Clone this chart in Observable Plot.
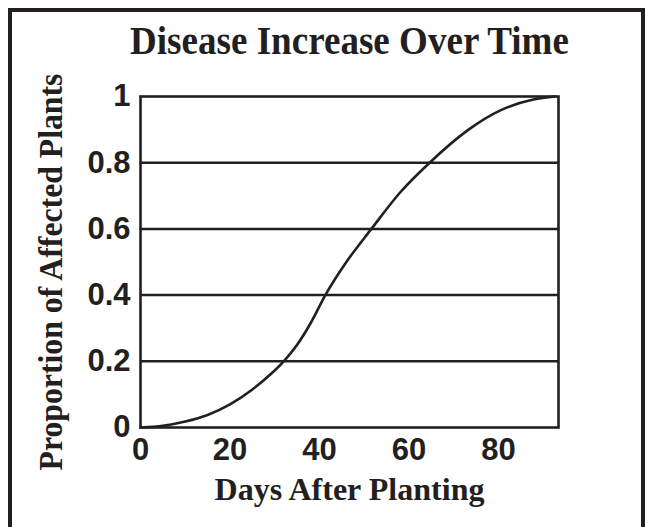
<!DOCTYPE html>
<html>
<head>
<meta charset="utf-8">
<script src="https://cdn.jsdelivr.net/npm/d3@7"></script>
<script src="https://cdn.jsdelivr.net/npm/@observablehq/plot@0.6"></script>
<style>
  html, body { margin: 0; padding: 0; background: #fff; overflow: hidden; }
  #wrap { position: relative; width: 650px; height: 527px; }
  #border { position: absolute; left: 8px; top: 8px; width: 637px; height: 560px;
            box-sizing: border-box; border: 4px solid #231f20; pointer-events: none; }
</style>
</head>
<body>
<div id="wrap"><div id="border"></div></div>
<script>
const title = "Disease Increase Over Time";
const xLabel = "Days After Planting";
const yLabel = "Proportion of Affected Plants";
const xTicks = [0, 20, 40, 60, 80];
const yTicks = [0, 0.2, 0.4, 0.6, 0.8, 1];
const gridLines = [0.2, 0.4, 0.6, 0.8];
const days = [0, 5, 10, 15, 20, 25, 29, 32, 35, 38, 41.3, 46, 51.6, 58, 64.6, 73, 80.4, 87.8, 92.7];
const proportion = [0, 0.005, 0.018, 0.038, 0.07, 0.115, 0.16, 0.2, 0.25, 0.315, 0.4, 0.5, 0.6, 0.71, 0.8, 0.897, 0.958, 0.991, 1];

const data = days.map((d, i) => ({day: d, p: proportion[i]}));
const ink = "#231f20";
const serif = "'Liberation Serif', 'Times New Roman', serif";

const chart = Plot.plot({
  width: 650,
  height: 527,
  marginTop: 96,
  marginLeft: 140,
  marginRight: 92,
  marginBottom: 100,
  style: {fontFamily: "'Liberation Sans', Arial, sans-serif", fontSize: "31px", fontWeight: "bold", color: ink, background: "transparent"},
  x: {domain: [0, 93.4], ticks: xTicks, tickSize: 0, tickPadding: 10, label: null, tickFormat: d => String(d)},
  y: {domain: [0, 1], ticks: yTicks, tickSize: 0, tickPadding: 10, label: null, tickFormat: d => String(d)},
  marks: [
    Plot.ruleY(gridLines, {stroke: ink, strokeWidth: 2.5}),
    Plot.line(data, {x: "day", y: "p", stroke: ink, strokeWidth: 2.6, curve: "monotone-x"}),
    Plot.frame({stroke: ink, strokeWidth: 2.6}),
    Plot.text([title], {frameAnchor: "top", textAnchor: "middle", lineAnchor: "middle", dy: -56, fontFamily: serif, fontSize: 41, fontWeight: "bold", fill: ink}),
    Plot.text([xLabel], {frameAnchor: "bottom", textAnchor: "middle", lineAnchor: "middle", dy: 63, fontFamily: serif, fontSize: 31, fontWeight: "bold", fill: ink}),
    Plot.text([yLabel], {frameAnchor: "left", textAnchor: "middle", lineAnchor: "middle", rotate: -90, dx: -89, dy: 10, fontFamily: serif, fontSize: 33, fontWeight: "bold", fill: ink})
  ]
});

document.getElementById("wrap").appendChild(chart);
const svg = d3.select(chart);
const textGroups = svg.selectAll('g[aria-label="text"]').nodes();
const targets = [439, 270, 397];
textGroups.forEach((g, i) => {
  const t = d3.select(g).select("text");
  const node = t.node();
  if (!node || targets[i] == null) return;
  const w = node.getComputedTextLength();
  if (!w) return;
  const tr = t.attr("transform") || "";
  t.attr("transform", `${tr} scale(${targets[i] / w},1)`);
});
</script>
</body>
</html>
